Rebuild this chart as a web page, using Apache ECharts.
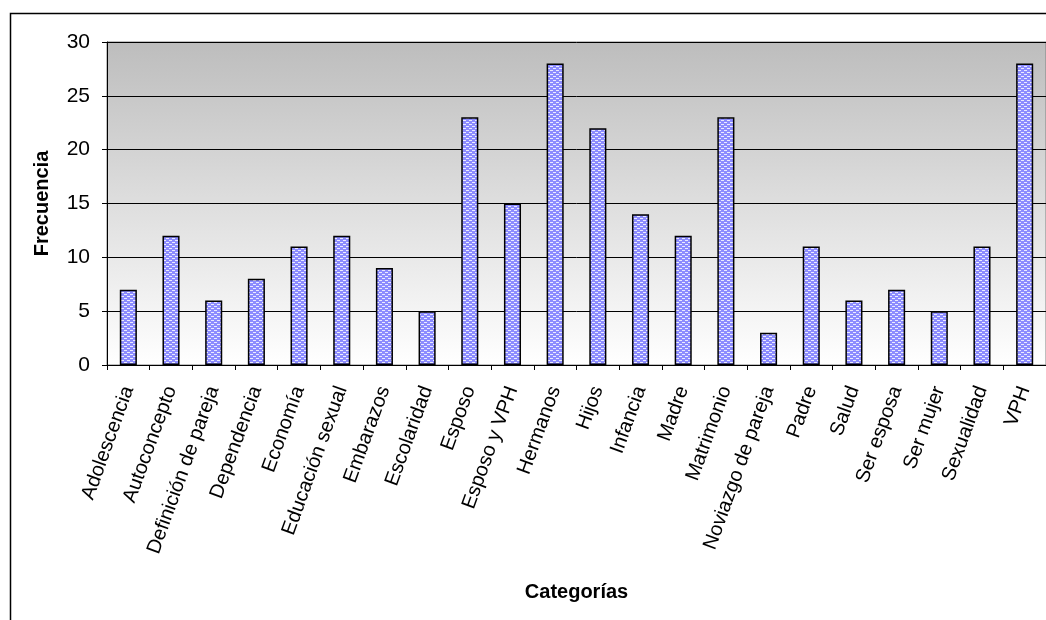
<!DOCTYPE html>
<html>
<head>
<meta charset="utf-8">
<script src="https://cdn.jsdelivr.net/npm/echarts@6/dist/echarts.min.js"></script>
<style>html,body{margin:0;padding:0;background:#fff}#c{width:1046px;height:620px}</style>
</head>
<body>
<div id="c"></div>
<script>
const categories = ['Adolescencia','Autoconcepto','Definición de pareja','Dependencia','Economía','Educación sexual','Embarazos','Escolaridad','Esposo','Esposo y VPH','Hermanos','Hijos','Infancia','Madre','Matrimonio','Noviazgo de pareja','Padre','Salud','Ser esposa','Ser mujer','Sexualidad','VPH'];
const frecuencia = [7,12,6,8,11,12,9,5,23,15,28,22,14,12,23,3,11,6,7,5,11,28];
const yTicks = [0,5,10,15,20,25,30];

// bar fill pattern: lavender with small white dashes
const pc = document.createElement('canvas');
pc.width = 6; pc.height = 4;
const g = pc.getContext('2d');
g.fillStyle = 'rgb(140,140,255)'; g.fillRect(0,0,6,4);
g.fillStyle = 'rgb(235,235,255)';
g.fillRect(1,0,3,1);
g.fillRect(4,2,2,1);
g.fillRect(0,2,1,1);

const font = '"Liberation Sans", Arial, sans-serif';
const chart = echarts.init(document.getElementById('c'), null, {renderer:'canvas'});
chart.setOption({
  animation:false,
  backgroundColor:'#ffffff',
  graphic:[{type:'rect', left:8, top:11, shape:{width:1200,height:800}, style:{fill:'none', stroke:'#000', lineWidth:1.5}, silent:true, z:-10}],
  grid:{left:107, right:0, top:42, bottom:255, show:true, borderColor:'#808080', borderWidth:1,
    backgroundColor:{type:'linear', x:0,y:0,x2:0,y2:1, colorStops:[{offset:0,color:'#bdbdbd'},{offset:1,color:'#ffffff'}]}},
  xAxis:{type:'category', data:categories,
    name:'Categorías', nameLocation:'middle', nameGap:217,
    nameTextStyle:{fontFamily:font, fontSize:20, fontWeight:'bold', color:'#000'},
    axisLine:{lineStyle:{color:'#000', width:1}},
    axisTick:{show:true, alignWithLabel:false, length:5, lineStyle:{color:'#000'}},
    axisLabel:{interval:0, rotate:70, margin:22, fontFamily:font, fontSize:20, color:'#000'},
    splitLine:{show:false}},
  yAxis:{type:'value', min:yTicks[0], max:yTicks[yTicks.length-1], interval:5,
    name:'Frecuencia', nameLocation:'middle', nameGap:55, nameRotate:90,
    nameTextStyle:{fontFamily:font, fontSize:20, fontWeight:'bold', color:'#000'},
    axisLine:{show:true, lineStyle:{color:'#000', width:1}},
    axisTick:{show:true, length:5, lineStyle:{color:'#000'}},
    axisLabel:{margin:17, fontFamily:font, fontSize:21, color:'#000'},
    splitLine:{show:true, lineStyle:{color:'#000', width:1}}},
  series:[{type:'bar', data:frecuencia, barWidth:'40%',
    itemStyle:{color:{image:pc, repeat:'repeat'}, borderColor:'#000', borderWidth:1.5}}]
});
</script>
</body>
</html>
